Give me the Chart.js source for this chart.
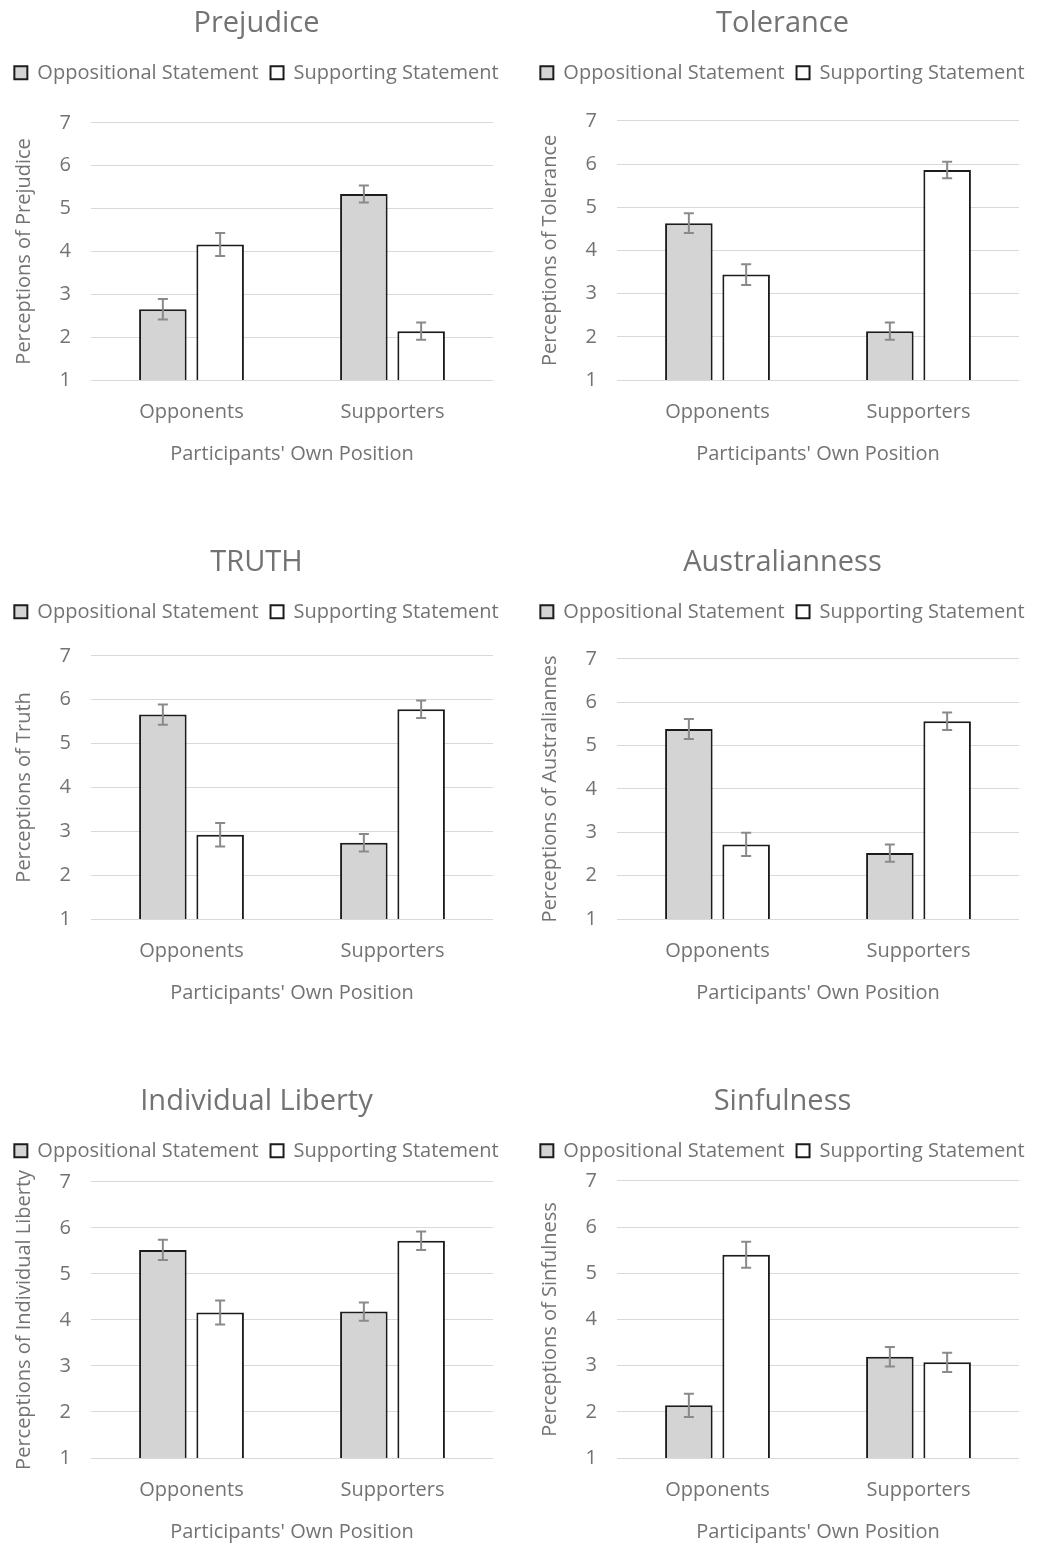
<!DOCTYPE html>
<html>
<head>
<meta charset="utf-8">
<script src="https://cdn.jsdelivr.net/npm/chart.js@4.4.1/dist/chart.umd.min.js"></script>
<style>
    body { margin: 0; background: #ffffff; }
    #page { position: relative; width: 1053px; height: 1548px; }
    .panel { position: absolute; width: 526px; height: 470px; }
</style>
</head>
<body>
<div id="page"></div>
<script>
const categories = ['Opponents', 'Supporters'];
const seriesNames = ['Oppositional Statement', 'Supporting Statement'];
const panelTitles = ['Prejudice', 'Tolerance', 'TRUTH', 'Australianness', 'Individual Liberty', 'Sinfulness'];
const yAxisTitles = [
    'Perceptions of Prejudice',
    'Perceptions of Tolerance',
    'Perceptions of Truth',
    'Perceptions of Australiannes',
    'Perceptions of Individual Liberty',
    'Perceptions of Sinfulness'
];
const xAxisTitle = "Participants' Own Position";

// one row per panel: [Opponents, Supporters]
const oppositionalMeans = [[2.65, 5.34], [4.63, 2.13], [5.66, 2.74], [5.38, 2.52], [5.52, 4.18], [2.14, 3.19]];
const supportingMeans   = [[4.16, 2.14], [3.44, 5.86], [2.92, 5.78], [2.72, 5.56], [4.16, 5.72], [5.40, 3.07]];
const oppositionalErrors = [[0.24, 0.20], [0.23, 0.20], [0.23, 0.20], [0.23, 0.20], [0.22, 0.20], [0.25, 0.21]];
const supportingErrors   = [[0.27, 0.20], [0.24, 0.19], [0.27, 0.20], [0.27, 0.20], [0.26, 0.20], [0.28, 0.21]];
const yMin = 1;
const yMax = 7;

// layout of the 3x2 grid: left, top, extra space under the legend
const panelBoxes = [
    { left: 0,   top: 0,    gap: 30 },
    { left: 526, top: 0,    gap: 28 },
    { left: 0,   top: 539,  gap: 24 },
    { left: 526, top: 539,  gap: 27 },
    { left: 0,   top: 1078, gap: 11 },
    { left: 526, top: 1078, gap: 10 }
];

const textGray = '#737373';
const fontName = '"Open Sans", "Noto Sans", sans-serif';

// adds blank space below the legend
const legendGap = {
    id: 'legendGap',
    beforeInit(chart, args, opts) {
        const fit = chart.legend.fit;
        chart.legend.fit = function () {
            fit.bind(chart.legend)();
            this.height += opts.gap || 0;
        };
    }
};

// error bars drawn at each bar through the y scale
const errorBars = {
    id: 'errorBars',
    afterDatasetsDraw(chart) {
        const ctx = chart.ctx;
        const y = chart.scales.y;
        ctx.save();
        ctx.strokeStyle = '#8a8a8a';
        ctx.lineWidth = 2;
        chart.data.datasets.forEach((ds, di) => {
            const meta = chart.getDatasetMeta(di);
            meta.data.forEach((bar, i) => {
                const v = ds.data[i];
                const e = ds.errors[i];
                const top = y.getPixelForValue(v + e);
                const bot = y.getPixelForValue(v - e);
                const x = bar.x;
                ctx.beginPath();
                ctx.moveTo(x, top); ctx.lineTo(x, bot);
                ctx.moveTo(x - 5, top); ctx.lineTo(x + 5, top);
                ctx.moveTo(x - 5, bot); ctx.lineTo(x + 5, bot);
                ctx.stroke();
            });
        });
        ctx.restore();
    }
};

const page = document.getElementById('page');

panelTitles.forEach((title, p) => {
    const box = document.createElement('div');
    box.className = 'panel';
    box.style.left = panelBoxes[p].left + 'px';
    box.style.top = panelBoxes[p].top + 'px';
    const canvas = document.createElement('canvas');
    canvas.width = 526;
    canvas.height = 470;
    box.appendChild(canvas);
    page.appendChild(box);

    new Chart(canvas.getContext('2d'), {
        type: 'bar',
        data: {
            labels: categories,
            datasets: [{
                label: seriesNames[0],
                data: oppositionalMeans[p],
                errors: oppositionalErrors[p],
                backgroundColor: '#d4d4d4',
                borderColor: '#1c1c1c',
                borderWidth: 2,
                categoryPercentage: 0.57,
                barPercentage: 0.83
            }, {
                label: seriesNames[1],
                data: supportingMeans[p],
                errors: supportingErrors[p],
                backgroundColor: '#ffffff',
                borderColor: '#1c1c1c',
                borderWidth: 2,
                categoryPercentage: 0.57,
                barPercentage: 0.83
            }]
        },
        options: {
            responsive: false,
            animation: false,
            layout: { padding: { left: 0, right: 13, top: 0, bottom: 0 } },
            plugins: {
                title: {
                    display: true,
                    text: title,
                    color: textGray,
                    font: { family: fontName, size: 29, weight: 'normal' },
                    padding: { top: 6, bottom: 10 }
                },
                legend: {
                    display: true,
                    position: 'top',
                    labels: {
                        color: textGray,
                        font: { family: fontName, size: 20 },
                        boxWidth: 13,
                        boxHeight: 13,
                        padding: 12
                    }
                },
                legendGap: { gap: panelBoxes[p].gap },
                tooltip: { enabled: false }
            },
            scales: {
                x: {
                    grid: { display: false },
                    border: { display: false },
                    ticks: {
                        color: textGray,
                        font: { family: fontName, size: 20 },
                        padding: 12
                    },
                    title: {
                        display: true,
                        text: xAxisTitle,
                        color: textGray,
                        font: { family: fontName, size: 20 },
                        padding: { top: 0, bottom: 4 }
                    },
                    afterFit(scale) { scale.height = 90; }
                },
                y: {
                    min: yMin,
                    max: yMax,
                    ticks: {
                        stepSize: 1,
                        color: textGray,
                        font: { family: fontName, size: 20 },
                        padding: 20
                    },
                    grid: { color: '#d9d9d9', lineWidth: 1, drawTicks: false },
                    border: { display: false },
                    title: {
                        display: true,
                        text: yAxisTitles[p],
                        color: textGray,
                        font: { family: fontName, size: 20 },
                        padding: { top: 12, bottom: 0 }
                    },
                    afterFit(scale) { scale.width = 91; }
                },
                // empty strip on the right so the title sits as in the reference
                yRight: {
                    position: 'right',
                    display: true,
                    ticks: { display: false },
                    grid: { display: false },
                    border: { display: false },
                    afterFit(scale) { scale.width = 20; }
                }
            }
        },
        plugins: [legendGap, errorBars]
    });
});
</script>
</body>
</html>
